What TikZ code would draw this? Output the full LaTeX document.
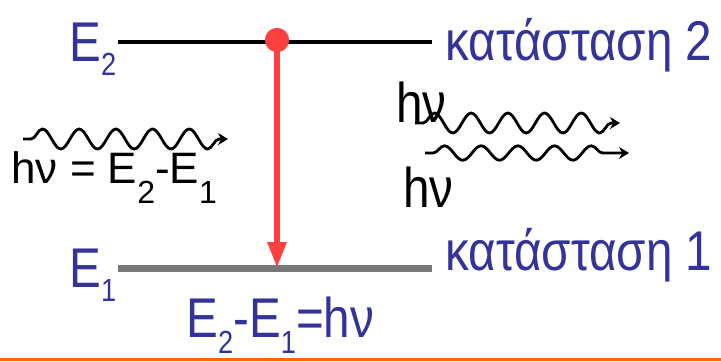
\documentclass[tikz,border=0pt]{standalone}
\usepackage{fontspec}
\setmainfont{Liberation Sans}
\newfontfamily\labelfont[FakeStretch=0.85]{Liberation Sans}
\usepackage{xcolor}
\usepackage{tikz}
\usetikzlibrary{arrows.meta, decorations.pathmorphing, positioning}
\definecolor{levelblue}{RGB}{51,51,153}
\definecolor{photonred}{RGB}{255,64,64}
\definecolor{groundgray}{RGB}{120,120,120}
\definecolor{rulerorange}{RGB}{255,102,0}
\newcommand{\lvlidx}[2][7pt]{\raisebox{-#1}{\fontsize{16}{16}\selectfont #2}}

\begin{document}
\begin{tikzpicture}[
  x=0.5pt, y=-0.5pt,
  level/.style={font=\labelfont\fontsize{28}{28}\selectfont, text=levelblue, inner sep=0pt, anchor=base west},
  quantum/.style={font=\labelfont\fontsize{28}{28}\selectfont, text=black, inner sep=0pt, anchor=base west},
  photon/.style={decorate, decoration={snake, segment length=18.35pt, amplitude=5pt, pre length=4pt, post length=4pt}, line width=1.4pt, -{Stealth[length=5pt,width=6pt]}},
  upper/.style={line width=2.3pt, black},
  lower/.style={line width=3.5pt, groundgray}
]
\useasboundingbox (0,0) rectangle (721,361);

% energy levels
\coordinate (topl) at (118,42);
\coordinate (topr) at (432,42);
\coordinate (botl) at (118,268);
\coordinate (botr) at (432,268);
\coordinate (land) at (277,268);
\draw[upper] (topl) -- (topr);
\draw[lower] (botl) -- (botr);

\node[level] (ltwo) at (69,61) {E\lvlidx{2}};
\node[level] (lone) at (69,287) {E\lvlidx{1}};
\node[level] (stwo) at (445,60) {κατάσταση 2};
\node[level] (sone) at (445,270) {κατάσταση 1};
\node[level] (gap) at (186,337) {E\lvlidx[8pt]{2}-E\lvlidx[8pt]{1}=hν};

% transition
\node[circle, fill=photonred, inner sep=0pt, minimum size=12pt] (dot) at (277,40) {};
\draw[photonred, line width=3pt, -{Triangle[length=13pt,width=9pt]}] (dot.center) -- (land);
\node[circle, fill=photonred, inner sep=0pt, minimum size=12pt] at (dot) {};

% photons
\coordinate (ina) at (23,139);
\coordinate (inb) at (228,139);
\coordinate (outa) at (415,123);
\coordinate (outb) at (620,123);
\coordinate (outc) at (425,153);
\coordinate (outd) at (629,153);
\draw[photon] (ina) -- (inb);
\draw[photon] (outa) -- (outb);
\draw[photon, decoration={amplitude=3.6pt}] (outc) -- (outd);

\node[quantum, font=\fontsize{22}{22}\selectfont] (absorb) at (11,183) {hν = E\lvlidx[10pt]{2}-E\lvlidx[10pt]{1}};
\node[quantum] (emitone) at (396,122) {hν};
\node[quantum] (emittwo) at (403,207) {hν};

\draw[rulerorange, line width=1.8pt] (0,359.5) -- (721,359.5);
\end{tikzpicture}
\end{document}
